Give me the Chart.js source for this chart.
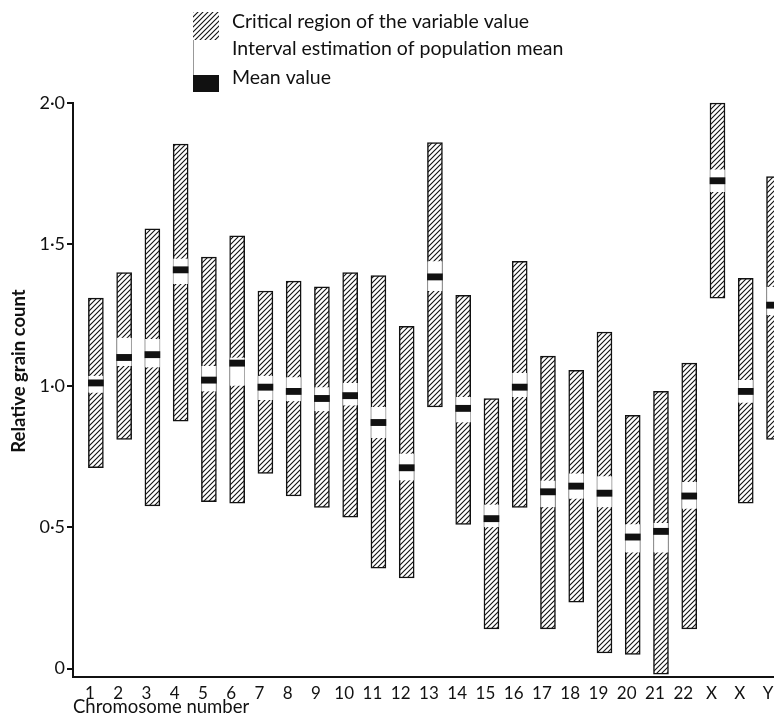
<!DOCTYPE html>
<html>
<head>
<meta charset="utf-8">
<script src="https://cdn.jsdelivr.net/npm/chart.js@4.4.1/dist/chart.umd.min.js"></script>
<style>
  html, body { margin: 0; padding: 0; background: #fff; }
  #wrap { width: 774px; height: 719px; }
</style>
</head>
<body>
<div id="wrap"><canvas id="grainChart" width="774" height="719"></canvas></div>
<script>
// chromosome categories (the last one is cut by the right edge)
const chromosomes = ['1', '2', '3', '4', '5', '6', '7', '8', '9', '10', '11', '12', '13',
  '14', '15', '16', '17', '18', '19', '20', '21', '22', 'X', 'X', 'Y'];

// critical region of the variable value (hatched bar)
const regionLow  = [0.71, 0.81, 0.575, 0.875, 0.59, 0.585, 0.69, 0.61, 0.57, 0.535, 0.355, 0.32, 0.925,
  0.51, 0.14, 0.57, 0.14, 0.235, 0.055, 0.05, -0.02, 0.14, 1.31, 0.585, 0.81];
const regionHigh = [1.31, 1.40, 1.555, 1.855, 1.455, 1.53, 1.335, 1.37, 1.35, 1.40, 1.39, 1.21, 1.86,
  1.32, 0.955, 1.44, 1.105, 1.055, 1.19, 0.895, 0.98, 1.08, 2.0, 1.38, 1.74];

// interval estimation of population mean (white box)
const meanLow  = [0.975, 1.07, 1.065, 1.36, 0.98, 1.00, 0.95, 0.945, 0.91, 0.93, 0.815, 0.665, 1.335,
  0.87, 0.50, 0.96, 0.57, 0.60, 0.57, 0.41, 0.41, 0.565, 1.685, 0.94, 1.25];
const meanHigh = [1.035, 1.17, 1.165, 1.45, 1.07, 1.10, 1.035, 1.03, 0.995, 1.01, 0.925, 0.76, 1.44,
  0.96, 0.58, 1.045, 0.665, 0.69, 0.68, 0.51, 0.515, 0.66, 1.765, 1.02, 1.35];

// mean value (black mark)
const meanValue = [1.01, 1.10, 1.11, 1.41, 1.02, 1.08, 0.995, 0.98, 0.955, 0.965, 0.87, 0.71, 1.385,
  0.92, 0.53, 0.995, 0.625, 0.645, 0.62, 0.465, 0.485, 0.61, 1.725, 0.98, 1.285];

const yTicks = [0, 0.5, 1, 1.5, 2];
const yTickLabels = ['0', '0·5', '1·0', '1·5', '2·0'];

const legendLabels = ['Critical region of the variable value', 'Interval estimation of population mean', 'Mean value'];

const canvas = document.getElementById('grainChart');
const ctx = canvas.getContext('2d');

// diagonal hatching like the printed figure
function makeHatch() {
  const s = 5;
  const tile = document.createElement('canvas');
  tile.width = s; tile.height = s;
  const g = tile.getContext('2d');
  g.fillStyle = '#fff';
  g.fillRect(0, 0, s, s);
  g.strokeStyle = '#111';
  g.lineWidth = 1.1;
  g.beginPath();
  g.moveTo(0, s); g.lineTo(s, 0);
  g.moveTo(-1, 1); g.lineTo(1, -1);
  g.moveTo(s - 1, s + 1); g.lineTo(s + 1, s - 1);
  g.stroke();
  return ctx.createPattern(tile, 'repeat');
}
const hatch = makeHatch();

const MARK = 0.011; // half height of the black mean mark

const regionData = chromosomes.map((c, i) => ({ x: i, y: [regionLow[i], regionHigh[i]] }));
const intervalData = chromosomes.map((c, i) => ({ x: i, y: [meanLow[i], meanHigh[i]] }));
const markData = chromosomes.map((c, i) => ({ x: i, y: [meanValue[i] - MARK, meanValue[i] + MARK] }));

// legend + y title drawn by hand to sit where the figure has them
const paperLabels = {
  id: 'paperLabels',
  afterDraw(chart) {
    const c = chart.ctx;
    c.save();
    // swatches
    c.fillStyle = hatch;
    c.fillRect(193, 12, 26, 28);
    c.fillStyle = '#fff';
    c.fillRect(193, 40, 26, 35);
    c.strokeStyle = '#999';
    c.lineWidth = 1;
    c.beginPath();
    c.moveTo(193.5, 40); c.lineTo(193.5, 75);
    c.stroke();
    c.fillStyle = '#111';
    c.fillRect(193, 75, 26, 17);

    c.fillStyle = '#111';
    c.font = '19.5px Lato';
    c.textBaseline = 'middle';
    c.textAlign = 'left';
    const ys = [22, 49, 78];
    legendLabels.forEach((t, i) => c.fillText(t, 232, ys[i]));

    // y axis title
    c.translate(19, 371);
    c.rotate(-Math.PI / 2);
    c.textAlign = 'center';
    c.font = 'bold 18.5px Lato';
    c.fillText('Relative grain count', 0, 0);
    c.restore();
  }
};

new Chart(ctx, {
  type: 'bar',
  data: {
    datasets: [
      {
        label: legendLabels[2],
        data: markData,
        backgroundColor: '#111',
        borderWidth: 0,
        barThickness: 15,
        grouped: false,
        order: 0
      },
      {
        label: legendLabels[1],
        data: intervalData,
        backgroundColor: '#fff',
        borderColor: '#aaa',
        borderWidth: { left: 1, right: 1, top: 0, bottom: 0 },
        borderSkipped: false,
        barThickness: 15,
        grouped: false,
        order: 1
      },
      {
        label: legendLabels[0],
        data: regionData,
        backgroundColor: hatch,
        borderColor: '#111',
        borderWidth: 1.5,
        borderSkipped: false,
        barThickness: 15,
        grouped: false,
        order: 2
      }
    ]
  },
  options: {
    responsive: false,
    devicePixelRatio: 1,
    animation: false,
    clip: false,
    layout: { padding: { top: 103, right: 0, bottom: 0, left: 0 } },
    plugins: {
      legend: { display: false },
      tooltip: { enabled: false }
    },
    scales: {
      x: {
        type: 'linear',
        min: -0.81,
        max: 24,
        offset: false,
        afterBuildTicks: (scale) => { scale.ticks = chromosomes.map((c, i) => ({ value: i })); },
        afterFit: (scale) => {
          scale.height = 42;
          scale.paddingLeft = 0;
          scale.paddingRight = 0;
        },
        grid: { display: true, offset: false, drawOnChartArea: false, drawTicks: false },
        border: { display: true, color: '#111', width: 2 },
        ticks: {
          autoSkip: false,
          maxRotation: 0,
          padding: 6,
          labelOffset: -6,
          color: '#111',
          font: { family: 'Lato', size: 17 },
          callback: (v) => chromosomes[v] ?? ''
        },
        title: {
          display: true,
          text: 'Chromosome number',
          align: 'start',
          color: '#111',
          font: { family: 'Lato', size: 18.5 },
          padding: { top: 0, bottom: 1 }
        }
      },
      y: {
        min: -0.03,
        max: 2.0,
        afterBuildTicks: (scale) => { scale.ticks = yTicks.map(v => ({ value: v })); },
        afterFit: (scale) => { scale.width = 73; },
        grid: { drawOnChartArea: false, drawTicks: true, tickLength: 6, color: '#111', lineWidth: 2 },
        border: { display: true, color: '#111', width: 2 },
        ticks: {
          padding: 2,
          color: '#111',
          font: { family: 'Lato', size: 18 },
          callback: (v, i) => yTickLabels[i]
        }
      }
    }
  },
  plugins: [paperLabels]
});
</script>
</body>
</html>
